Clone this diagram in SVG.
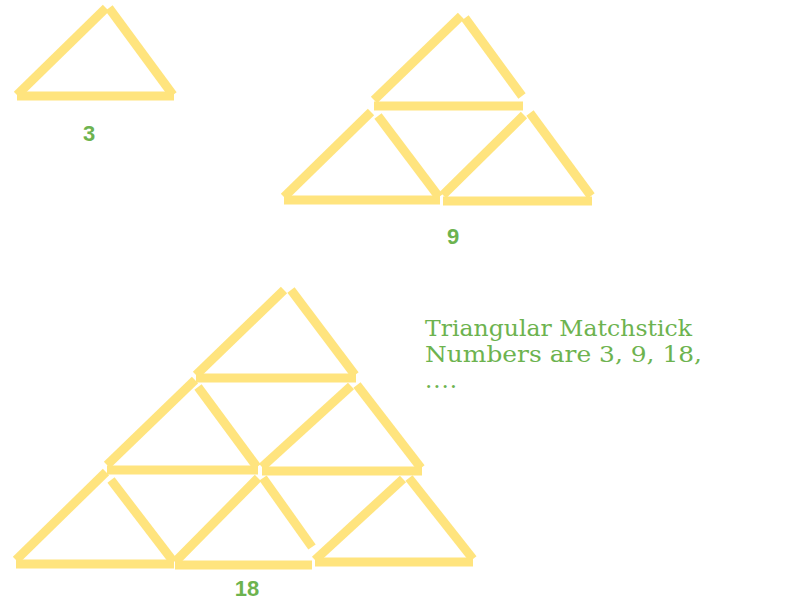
<svg xmlns="http://www.w3.org/2000/svg" width="800" height="600" viewBox="0 0 800 600">
<style>
.s{stroke:#FFE47E;stroke-width:9;stroke-linecap:butt;fill:none}
.n{font-family:"Liberation Sans",Arial,sans-serif;font-size:22px;font-weight:bold;fill:#6DB34F;text-anchor:middle}
.t{font-family:"DejaVu Serif","Liberation Serif",serif;font-size:23px;fill:#6DB34F}
</style>
<rect width="800" height="600" fill="#FFFFFF"/>
<g id="fig3">
<line class="s" x1="17" y1="95" x2="106" y2="8"/>
<line class="s" x1="109" y1="8" x2="173" y2="95"/>
<line class="s" x1="17" y1="96" x2="174" y2="96"/>
</g>
<g id="fig9">
<line class="s" x1="374" y1="100" x2="461" y2="16"/>
<line class="s" x1="465" y1="18" x2="522" y2="96"/>
<line class="s" x1="374" y1="106" x2="523" y2="106"/>
<line class="s" x1="284" y1="197" x2="371" y2="112"/>
<line class="s" x1="378" y1="116" x2="439" y2="197"/>
<line class="s" x1="284" y1="200" x2="440" y2="200"/>
<line class="s" x1="443" y1="195" x2="524" y2="115"/>
<line class="s" x1="530" y1="113" x2="591" y2="196"/>
<line class="s" x1="443" y1="201" x2="592" y2="201"/>
</g>
<g id="fig18">
<line class="s" x1="196" y1="375" x2="284" y2="290"/>
<line class="s" x1="291" y1="290" x2="355" y2="375"/>
<line class="s" x1="196" y1="378" x2="356" y2="378"/>
<line class="s" x1="107" y1="465" x2="195" y2="380"/>
<line class="s" x1="198" y1="387" x2="257" y2="467"/>
<line class="s" x1="107" y1="470" x2="258" y2="470"/>
<line class="s" x1="262" y1="467" x2="351" y2="386"/>
<line class="s" x1="357" y1="385" x2="421" y2="468"/>
<line class="s" x1="262" y1="471" x2="422" y2="471"/>
<line class="s" x1="16" y1="560" x2="106" y2="472"/>
<line class="s" x1="111" y1="480" x2="173" y2="561"/>
<line class="s" x1="16" y1="564" x2="174" y2="564"/>
<line class="s" x1="175" y1="562" x2="258" y2="478"/>
<line class="s" x1="263" y1="478" x2="312" y2="547"/>
<line class="s" x1="175" y1="565" x2="312" y2="565"/>
<line class="s" x1="315" y1="560" x2="403" y2="479"/>
<line class="s" x1="409" y1="478" x2="473" y2="559"/>
<line class="s" x1="315" y1="562" x2="473" y2="562"/>
</g>
<g id="labels">
<text class="n" x="89" y="141">3</text>
<text class="n" x="453" y="244">9</text>
<text class="n" x="247" y="596">18</text>
<text class="t" x="425" y="336" textLength="267" lengthAdjust="spacingAndGlyphs">Triangular  Matchstick</text>
<text class="t" x="425" y="362" textLength="277" lengthAdjust="spacingAndGlyphs">Numbers are 3,  9,  18,</text>
<text class="t" x="425" y="388" textLength="32" lengthAdjust="spacing">....</text>
</g>
</svg>
